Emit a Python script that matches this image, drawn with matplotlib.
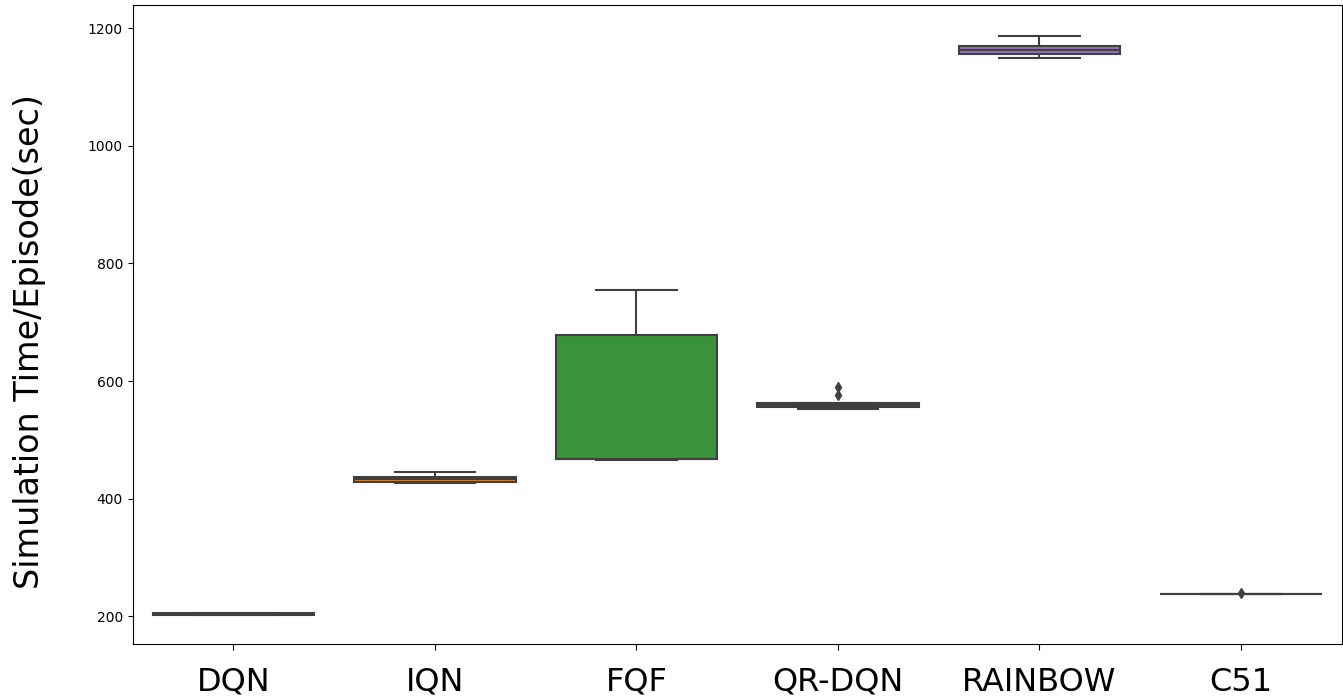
import matplotlib
matplotlib.use("Agg")
from matplotlib import pyplot as plt
import pandas as pd
import seaborn as sns

# simulation time per episode (sec), several runs per algorithm
algorithms = ["DQN", "IQN", "FQF", "QR-DQN", "RAINBOW", "C51"]
dqn = [201.5, 202, 202.5, 205, 205.5, 206]
iqn = [427, 428, 430, 434, 436, 438, 446]
fqf = [466, 467, 468, 678, 755]
qr_dqn = [553, 554, 556, 557, 558, 560, 562, 563, 577, 590]
rainbow = [1149, 1155, 1159, 1163, 1168, 1171, 1187]
c51 = [237.6, 237.8, 237.9, 238.0, 238.1, 238.2, 239.5]

runs = [dqn, iqn, fqf, qr_dqn, rainbow, c51]
rows = []
for name, vals in zip(algorithms, runs):
    for v in vals:
        rows.append({"algo": name, "time": v})
df = pd.DataFrame(rows)

fig = plt.figure(figsize=(13.43, 7), dpi=100)
ax = fig.add_axes([0.0988, 0.0796, 0.9002, 0.9133])

sns.boxplot(data=df, x="algo", y="time", hue="algo", order=algorithms,
            palette="tab10", saturation=0.75, width=0.8, ax=ax,
            legend=False, linecolor="#3f3f3f", linewidth=1.5,
            flierprops={"marker": "d", "markerfacecolor": "#3f3f3f",
                        "markeredgecolor": "#3f3f3f", "markersize": 5})

ax.set_xlabel("")
ax.set_ylabel("Simulation Time/Episode(sec)", fontsize=24, labelpad=30)
ax.yaxis.label.set_y(0.473)
ax.set_yticks([200, 400, 600, 800, 1000, 1200])
ax.tick_params(axis="x", labelsize=23, length=4, pad=12)
ax.tick_params(axis="y", labelsize=10)
ax.set_ylim(152.4, 1239.6)

plt.savefig("out.png", dpi=100)
